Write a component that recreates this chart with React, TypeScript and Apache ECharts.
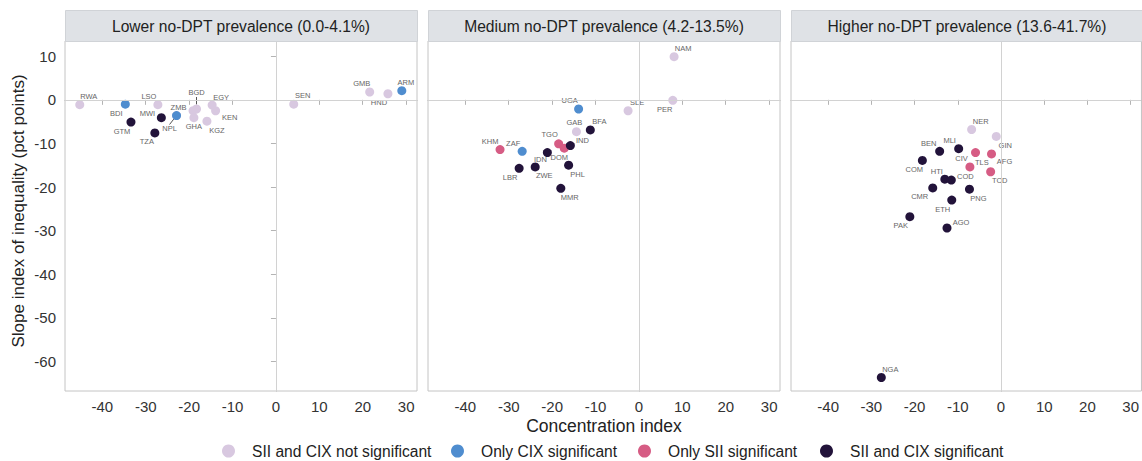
import React, { useEffect, useRef } from "react";
import * as echarts from "echarts";

const panelTitles = [
  "Lower no-DPT prevalence (0.0-4.1%)",
  "Medium no-DPT prevalence (4.2-13.5%)",
  "Higher no-DPT prevalence (13.6-41.7%)",
];
const legendNames = [
  "SII and CIX not significant",
  "Only CIX significant",
  "Only SII significant",
  "SII and CIX significant",
];
const legendColors = ["#d8c8e0", "#4f8dcf", "#d65c84", "#22133a"];

const xTicks = [-40, -30, -20, -10, 0, 10, 20, 30];
const yTicks = [-60, -50, -40, -30, -20, -10, 0, 10];

const p1Names = ["RWA", "BDI", "LSO", "GTM", "MWI", "TZA", "NPL", "ZMB", "BGD", "", "GHA", "EGY", "KEN", "KGZ", "SEN", "GMB", "HND", "ARM"];
const p1X = [-45.2, -34.7, -27.2, -33.4, -26.4, -27.9, -22.9, -22.9, -18.3, -19.1, -18.9, -14.7, -13.9, -15.9, 4.1, 21.6, 25.8, 29.0];
const p1Y = [-1.1, -1.0, -1.1, -5.1, -4.1, -7.6, -3.6, -3.6, -2.1, -2.5, -4.1, -1.2, -2.5, -4.9, -1.0, 1.8, 1.4, 2.1];
const p1Sig = [0, 1, 0, 3, 3, 3, 0, 1, 0, 0, 0, 0, 0, 0, 0, 0, 0, 1];

const p2Names = ["NAM", "PER", "SLE", "UGA", "GAB", "BFA", "TGO", "DOM", "IND", "KHM", "ZAF", "IDN", "LBR", "ZWE", "PHL", "MMR"];
const p2X = [8.1, 7.8, -2.5, -13.9, -14.4, -11.2, -18.5, -17.2, -15.8, -32.0, -26.9, -21.1, -27.6, -23.9, -16.2, -18.0];
const p2Y = [9.9, -0.1, -2.5, -2.1, -7.3, -6.9, -10.1, -11.1, -10.5, -11.4, -11.8, -12.1, -15.7, -15.4, -15.0, -20.3];
const p2Sig = [0, 0, 0, 1, 0, 3, 2, 2, 3, 2, 1, 3, 3, 3, 3, 3];

const p3Names = ["NER", "GIN", "BEN", "MLI", "CIV", "AFG", "COM", "TLS", "TCD", "HTI", "COD", "CMR", "PNG", "ETH", "PAK", "AGO", "NGA"];
const p3X = [-6.8, -1.1, -14.2, -9.8, -5.9, -2.2, -18.2, -7.2, -2.4, -13.0, -11.5, -15.8, -7.3, -11.4, -21.1, -12.5, -27.7];
const p3Y = [-6.8, -8.4, -11.8, -11.2, -12.1, -12.4, -13.9, -15.4, -16.5, -18.2, -18.4, -20.2, -20.5, -23.0, -26.8, -29.4, -63.7];
const p3Sig = [0, 0, 3, 3, 2, 2, 3, 2, 2, 3, 3, 3, 3, 3, 3, 3, 3];

// label placement (pixel offset of label centre from the dot)
const labelOffsets: Record<string, [number, number]> = {
  RWA: [9, -8], BDI: [-9, 9], LSO: [-9, -8], GTM: [-9, 9], MWI: [-14, -4], TZA: [-8, 9],
  ZMB: [2, -8], NPL: [-7, 13], BGD: [0, -16], GHA: [0, 9], EGY: [9, -8], KEN: [14, 7],
  KGZ: [10, 9], SEN: [9, -9], GMB: [-8, -8], HND: [-9, 9], ARM: [4, -8],
  NAM: [9, -8], PER: [-8, 9], SLE: [9, -8], UGA: [-9, -8], GAB: [-2, -9], BFA: [9, -8],
  TGO: [-9, -9], IND: [12, -5], KHM: [-10, -8], ZAF: [-9, -8], IDN: [-7, 7], DOM: [-5, 9],
  LBR: [-9, 9], ZWE: [9, 9], PHL: [9, 9], MMR: [9, 9],
  NER: [9, -8], GIN: [9, 9], BEN: [-11, -8], MLI: [-9, -8], CIV: [-14, 6], AFG: [13, 8],
  COM: [-8, 9], TLS: [12, -4], TCD: [9, 9], HTI: [-8, -8], COD: [14, -4], CMR: [-13, 9],
  PNG: [9, 9], ETH: [-9, 9], PAK: [-9, 9], AGO: [14, -5], NGA: [9, -8],
};
const leaderLabels = ["BGD", "NPL"];

const panels = [
  { names: p1Names, xs: p1X, ys: p1Y, sig: p1Sig },
  { names: p2Names, xs: p2X, ys: p2Y, sig: p2Sig },
  { names: p3Names, xs: p3X, ys: p3Y, sig: p3Sig },
];

const FONT = "'Liberation Sans', Arial, sans-serif";
const panelLefts = [65, 428, 791];
const panelWidth = 352;
const plotTop = 41;
const plotHeight = 350;
const legendLefts = [222, 451, 638, 820];

export default function App() {
  const ref = useRef<HTMLDivElement>(null);
  useEffect(() => {
    if (!ref.current) return;
    const chart = echarts.init(ref.current, null, { renderer: "svg" });

    const grids = panelLefts.map((l) => ({
      left: l, top: plotTop, width: panelWidth, height: plotHeight,
      show: true, borderColor: "#c4c4c4", borderWidth: 1, backgroundColor: "#fff",
    }));

    const xAxes = panelLefts.map((_, i) => ({
      type: "value", gridIndex: i, min: -48.6, max: 32.5,
      axisLine: { show: true, lineStyle: { color: "#b4b4b4" } },
      axisTick: { show: true, customValues: xTicks, length: 5, lineStyle: { color: "#b4b4b4" } },
      axisLabel: { customValues: xTicks, fontSize: 15, color: "#333", fontFamily: FONT, margin: 8 },
      splitLine: { show: false },
    }));
    const yAxes = panelLefts.map((_, i) => ({
      type: "value", gridIndex: i, min: -66.8, max: 13.5,
      axisLine: { show: true, lineStyle: { color: "#b4b4b4" } },
      axisTick: { show: i === 0, customValues: yTicks, length: 5, lineStyle: { color: "#b4b4b4" } },
      axisLabel: { show: i === 0, customValues: yTicks, fontSize: 15, color: "#333", fontFamily: FONT, margin: 9 },
      splitLine: { show: false },
    }));

    const series: any[] = [];
    panels.forEach((p, pi) => {
      series.push({
        type: "scatter", xAxisIndex: pi, yAxisIndex: pi, data: [], silent: true,
        markLine: {
          silent: true, symbol: "none", animation: false,
          label: { show: false },
          lineStyle: { color: "#d2d2d2", width: 1, type: "solid" },
          data: [{ xAxis: 0 }, { yAxis: 0 }],
        },
      });
      legendNames.forEach((nm, ci) => {
        const data = p.names
          .map((n, k) => ({ n, k }))
          .filter((o) => p.sig[o.k] === ci)
          .map(({ n, k }) => ({
            name: n,
            value: [p.xs[k], p.ys[k]],
            label: { show: n !== "" },
            labelLine: { show: leaderLabels.includes(n), lineStyle: { color: "#555", width: 1 } },
          }));
        series.push({
          type: "scatter", name: nm, xAxisIndex: pi, yAxisIndex: pi,
          symbol: "circle", symbolSize: 9,
          itemStyle: { color: legendColors[ci], opacity: 1 },
          label: {
            show: true, formatter: "{b}", position: "inside", align: "center", verticalAlign: "middle",
            fontSize: 7.5, color: "#666", fontFamily: FONT, textBorderWidth: 0,
          },
          labelLayout: (params: any) => {
            const o = labelOffsets[params.text];
            return o ? { dx: o[0], dy: o[1] } : {};
          },
          data,
        });
      });
    });

    const graphic: any[] = [];
    panelLefts.forEach((l, i) => {
      graphic.push({
        type: "rect", left: l, top: 10, z: 10,
        shape: { width: panelWidth, height: 31 },
        style: { fill: "#dfe2e6", stroke: "#d0d3d7", lineWidth: 1 },
      });
      graphic.push({
        type: "text", x: l + panelWidth / 2, y: 26, z: 11,
        style: { text: panelTitles[i], fontSize: 15.6, fill: "#222", fontFamily: FONT, align: "center", verticalAlign: "middle" },
      });
    });
    graphic.push({
      type: "text", x: panelLefts[1] + panelWidth / 2, y: 426, z: 11,
      style: { text: "Concentration index", fontSize: 17.5, fill: "#222", fontFamily: FONT, align: "center", verticalAlign: "middle" },
    });
    graphic.push({
      type: "text", x: 18, y: 211, rotation: Math.PI / 2, z: 11,
      style: { text: "Slope index of inequality (pct points)", fontSize: 17, fill: "#222", fontFamily: FONT, align: "center", verticalAlign: "middle" },
    });

    const legends = legendNames.map((nm, i) => ({
      data: [nm], left: legendLefts[i], top: 443, padding: 0, icon: "circle", itemWidth: 13, itemHeight: 13,
      selectedMode: false,
      textStyle: { fontSize: 15.6, color: "#222", fontFamily: FONT, padding: [0, 0, 0, 12] },
    }));

    chart.setOption({
      animation: false,
      backgroundColor: "#fff",
      grid: grids,
      xAxis: xAxes,
      yAxis: yAxes,
      legend: legends,
      graphic,
      series,
    });
    return () => chart.dispose();
  }, []);
  return <div ref={ref} style={{ position: "absolute", left: 0, top: 0, width: 1142, height: 461 }} />;
}
